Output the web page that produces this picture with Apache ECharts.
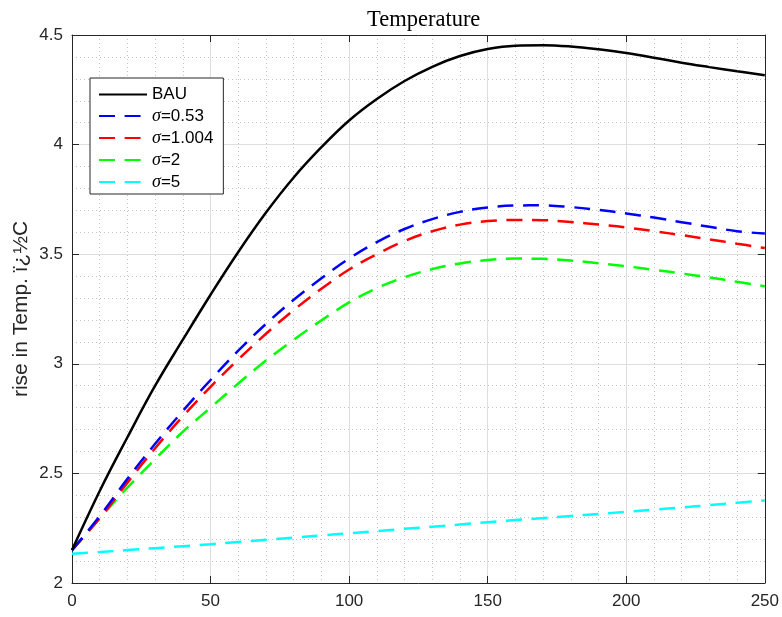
<!DOCTYPE html>
<html>
<head>
<meta charset="utf-8">
<script src="https://cdn.jsdelivr.net/npm/echarts@6/dist/echarts.min.js"></script>
<style>html,body{margin:0;padding:0;background:#fff}#c{width:782px;height:617px}</style>
</head>
<body>
<div id="c"></div>
<script>
const xValues = [0,10,20,30,40,50,60,70,80,90,100,110,120,130,140,150,160,170,180,190,200,210,220,230,240,250];
const bau      = [2.15,2.42,2.665,2.90,3.11,3.315,3.51,3.69,3.85,3.988,4.11,4.208,4.29,4.355,4.404,4.436,4.4515,4.4535,4.4475,4.4345,4.4175,4.3965,4.3735,4.3535,4.3345,4.3165];
const sigma053 = [2.15,2.305,2.475,2.635,2.785,2.926,3.06,3.182,3.292,3.39,3.48,3.555,3.615,3.66,3.693,3.713,3.722,3.723,3.715,3.702,3.686,3.667,3.646,3.625,3.605,3.594];
const sigma1004= [2.15,2.295,2.458,2.615,2.76,2.895,3.02,3.137,3.245,3.342,3.43,3.50,3.56,3.605,3.635,3.651,3.656,3.655,3.647,3.635,3.622,3.605,3.587,3.568,3.548,3.528];
const sigma2   = [2.15,2.295,2.435,2.565,2.69,2.80,2.91,3.015,3.11,3.198,3.28,3.345,3.395,3.432,3.458,3.473,3.48,3.479,3.471,3.459,3.445,3.429,3.412,3.394,3.374,3.354];
const sigma5   = [2.133,2.141,2.150,2.159,2.168,2.177,2.187,2.197,2.207,2.217,2.227,2.237,2.247,2.257,2.267,2.277,2.287,2.296,2.306,2.315,2.325,2.335,2.345,2.355,2.366,2.376];
const seriesNames = ['BAU','σ=0.53','σ=1.004','σ=2','σ=5'];
const seriesData = [bau, sigma053, sigma1004, sigma2, sigma5];
const seriesColors = ['#000000','#0000ff','#ff0000','#00ff00','#00ffff'];
const xTicks = [0,50,100,150,200,250];
const yTicks = [2,2.5,3,3.5,4,4.5];

const axisColor = '#262626';
const dash = [16, 9.6];

const chart = echarts.init(document.getElementById('c'), null, {renderer:'canvas'});
const series = seriesNames.map((n, i) => ({
  name: n,
  type: 'line',
  xAxisIndex: 0, yAxisIndex: 0,
  data: xValues.map((x, k) => [x, seriesData[i][k]]),
  symbol: 'none',
  smooth: 0.4,
  lineStyle: {color: seriesColors[i], width: 2.5, type: i === 0 ? 'solid' : dash, cap: 'butt'},
  itemStyle: {color: seriesColors[i]},
  animation: false,
  z: 10 - i
}));

chart.setOption({
  animation: false,
  backgroundColor: '#ffffff',
  title: {
    text: 'Temperature', left: 362, top: 4,
    textStyle: {fontFamily: 'Liberation Serif', fontWeight: 'normal', fontSize: 22.5, color: '#000'}
  },
  grid: {left: 72, right: 15, top: 35, bottom: 34, containLabel: false},
  legend: {
    orient: 'vertical', left: 90, top: 78,
    backgroundColor: '#ffffff', borderColor: axisColor, borderWidth: 1,
    padding: [8, 10, 3, 8], itemGap: 4, itemWidth: 48, itemHeight: 14,
    itemStyle: {opacity: 0},
    data: seriesNames,
    textStyle: {
      fontFamily: 'Liberation Sans', fontSize: 17, color: '#000',
      rich: {
        s: {fontFamily: 'Liberation Serif', fontStyle: 'italic', fontSize: 18, color: '#000'},
        n: {fontFamily: 'Liberation Sans', fontSize: 17, color: '#000'}
      }
    },
    formatter: function (name) {
      if (name.indexOf('σ') === 0) return '{s|σ}{n|' + name.slice(1) + '}';
      return '{n|' + name + '}';
    }
  },
  xAxis: [{
    type: 'value', min: 0, max: 250, interval: 50, position: 'bottom',
    axisLine: {show: true, onZero: false, lineStyle: {color: axisColor, width: 1}},
    axisTick: {show: true, inside: true, length: 7, lineStyle: {color: axisColor}},
    axisLabel: {color: axisColor, fontFamily: 'Liberation Sans', fontSize: 17, margin: 10,
      formatter: v => xTicks.includes(v) ? String(v) : ''},
    splitLine: {show: true, lineStyle: {color: '#dedede', width: 1}},
    minorTick: {show: false, splitNumber: 5},
    minorSplitLine: {show: true, lineStyle: {color: '#c4c4c4', width: 1, type: [1, 3]}}
  }, {
    type: 'value', min: 0, max: 250, interval: 50, position: 'top',
    axisLine: {show: true, onZero: false, lineStyle: {color: axisColor, width: 1}},
    axisTick: {show: true, inside: true, length: 7, lineStyle: {color: axisColor}},
    axisLabel: {show: false}, splitLine: {show: false}
  }],
  yAxis: [{
    type: 'value', min: 2, max: 4.5, interval: 0.5, position: 'left',
    name: 'rise in Temp. ï¿½C', nameLocation: 'middle', nameGap: 40, nameRotate: 90,
    nameMoveOverlap: false,
    nameTextStyle: {fontFamily: 'Liberation Sans', fontSize: 21, color: axisColor},
    axisLine: {show: true, onZero: false, lineStyle: {color: axisColor, width: 1}},
    axisTick: {show: true, inside: true, length: 7, lineStyle: {color: axisColor}},
    axisLabel: {color: axisColor, fontFamily: 'Liberation Sans', fontSize: 17, margin: 9,
      formatter: v => yTicks.includes(v) ? String(v) : ''},
    splitLine: {show: true, lineStyle: {color: '#dedede', width: 1}},
    minorTick: {show: false, splitNumber: 5},
    minorSplitLine: {show: true, lineStyle: {color: '#c4c4c4', width: 1, type: [1, 3]}}
  }, {
    type: 'value', min: 2, max: 4.5, interval: 0.5, position: 'right',
    axisLine: {show: true, onZero: false, lineStyle: {color: axisColor, width: 1}},
    axisTick: {show: true, inside: true, length: 7, lineStyle: {color: axisColor}},
    axisLabel: {show: false}, splitLine: {show: false}
  }],
  series: series
});
</script>
</body>
</html>
